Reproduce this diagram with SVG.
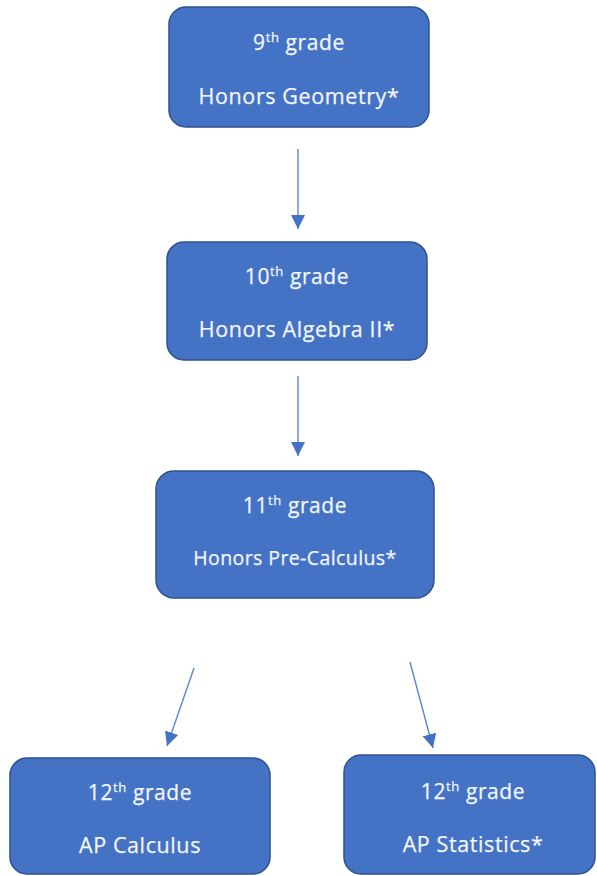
<svg xmlns="http://www.w3.org/2000/svg" width="597" height="876" viewBox="0 0 597 876">
<defs>
<style>
.box{fill:#4472C4;stroke:#2F528F;stroke-width:1.5}
.t{font-family:"Open Sans","Noto Sans",sans-serif;fill:#F3F6FC;text-anchor:middle;stroke:#F3F6FC;stroke-width:0.25}
.g{font-size:21px;letter-spacing:0.6px}
.c{font-size:21.5px;letter-spacing:0.6px}
.s{font-size:13px}
.conn{stroke:#5B86D0;stroke-width:1.4;fill:none}
</style>
<marker id="ah" markerUnits="userSpaceOnUse" markerWidth="16" markerHeight="16" viewBox="0 0 16 16" refX="14" refY="8" orient="auto">
<path d="M0,1 L14,8 L0,15 Z" fill="#4472C4"/>
</marker>
</defs>
<rect width="597" height="876" fill="#FFFFFF"/>
<g id="connectors">
<line class="conn" x1="298" y1="149" x2="298" y2="229" marker-end="url(#ah)"/>
<line class="conn" x1="298" y1="376" x2="298" y2="456" marker-end="url(#ah)"/>
<line class="conn" x1="194" y1="668" x2="167" y2="746" marker-end="url(#ah)"/>
<line class="conn" x1="410" y1="662" x2="433" y2="748" marker-end="url(#ah)"/>
</g>
<g id="n9">
<rect class="box" x="169" y="7" width="260" height="120" rx="17"/>
<text class="t g" x="299" y="50">9<tspan class="s" dy="-8">th</tspan><tspan dy="8"> grade</tspan></text>
<text class="t c" x="299" y="104">Honors Geometry*</text>
</g>
<g id="n10">
<rect class="box" x="167" y="242" width="260" height="118" rx="17"/>
<text class="t g" x="297" y="284">10<tspan class="s" dy="-8">th</tspan><tspan dy="8"> grade</tspan></text>
<text class="t c" x="297" y="337">Honors Algebra II*</text>
</g>
<g id="n11">
<rect class="box" x="156" y="471" width="278" height="127" rx="18"/>
<text class="t g" x="295" y="513">11<tspan class="s" dy="-8">th</tspan><tspan dy="8"> grade</tspan></text>
<text class="t" x="295" y="565" style="font-size:19.5px;letter-spacing:0.4px">Honors Pre-Calculus*</text>
</g>
<g id="n12a">
<rect class="box" x="10" y="758" width="260" height="116" rx="17"/>
<text class="t g" x="140" y="800">12<tspan class="s" dy="-8">th</tspan><tspan dy="8"> grade</tspan></text>
<text class="t c" x="140" y="853">AP Calculus</text>
</g>
<g id="n12b">
<rect class="box" x="344" y="755" width="251" height="119" rx="17"/>
<text class="t g" x="473" y="799">12<tspan class="s" dy="-8">th</tspan><tspan dy="8"> grade</tspan></text>
<text class="t c" x="473" y="852">AP Statistics*</text>
</g>
</svg>
